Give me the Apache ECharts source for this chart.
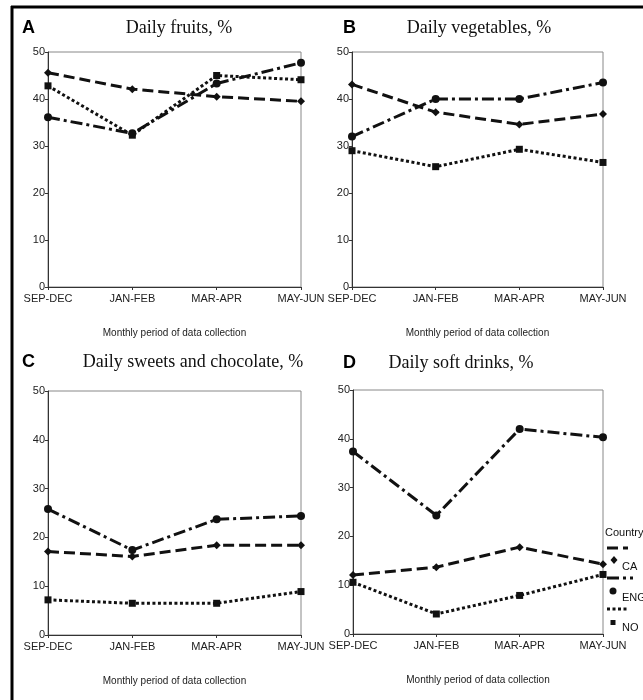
<!DOCTYPE html>
<html>
<head>
<meta charset="utf-8">
<script src="https://cdn.jsdelivr.net/npm/echarts@6/dist/echarts.min.js"></script>
<style>
  html, body { margin: 0; padding: 0; background: #fff; }
  #chart { width: 643px; height: 700px; }
</style>
</head>
<body>
<div id="chart"></div>
<script>
// Collection periods (x categories) and y tick values
const periods = ['SEP-DEC', 'JAN-FEB', 'MAR-APR', 'MAY-JUN'];
const yTicks = [0, 10, 20, 30, 40, 50];

// Panel titles
const panelLetters = ['A', 'B', 'C', 'D'];
const panelTitles = ['Daily fruits, %', 'Daily vegetables, %', 'Daily sweets and chocolate, %', 'Daily soft drinks, %'];

// Countries
const countries = ['CA', 'ENG', 'NO'];

// A: daily fruits
const fruitsCA  = [45.6, 42.1, 40.5, 39.5];
const fruitsENG = [36.1, 32.7, 43.3, 47.7];
const fruitsNO  = [42.8, 32.3, 45.0, 44.1];

// B: daily vegetables
const vegCA  = [43.1, 37.2, 34.6, 36.8];
const vegENG = [32.0, 40.0, 40.0, 43.5];
const vegNO  = [29.0, 25.6, 29.3, 26.5];

// C: daily sweets and chocolate
const sweetsCA  = [17.1, 16.1, 18.4, 18.4];
const sweetsENG = [25.8, 17.4, 23.7, 24.4];
const sweetsNO  = [7.2, 6.5, 6.5, 8.9];

// D: daily soft drinks
const drinksCA  = [12.1, 13.7, 17.8, 14.3];
const drinksENG = [37.4, 24.3, 42.0, 40.3];
const drinksNO  = [10.6, 4.1, 7.9, 12.2];

const panelData = [
  [fruitsCA, fruitsENG, fruitsNO],
  [vegCA, vegENG, vegNO],
  [sweetsCA, sweetsENG, sweetsNO],
  [drinksCA, drinksENG, drinksNO]
];

// Per-country line and marker styles
const countryStyle = {
  CA:  { dash: [11, 5], symbol: 'diamond', size: 8 },
  ENG: { dash: [12, 4, 3, 4], symbol: 'circle', size: 8 },
  NO:  { dash: [3, 2.5], symbol: 'rect', size: 7 }
};

// Grid placement of each panel
const grids = [
  { left: 48,  top: 52,  width: 253, height: 235 },
  { left: 352, top: 52,  width: 251, height: 235 },
  { left: 48,  top: 391, width: 253, height: 244 },
  { left: 353, top: 390, width: 250, height: 244 }
];

const INK = '#111';
const sans = 'Liberation Sans, Arial, sans-serif';
const serif = 'Liberation Serif, Times New Roman, serif';

const xAxes = grids.map((g, i) => ({
  type: 'category',
  gridIndex: i,
  data: periods,
  boundaryGap: false,
  axisLine: { show: true, lineStyle: { color: '#333', width: 1 } },
  axisTick: { show: true, alignWithLabel: true, length: 3, lineStyle: { color: '#333' } },
  axisLabel: { color: '#222', fontFamily: sans, fontSize: 11, margin: 6 },
  name: 'Monthly period of data collection',
  nameLocation: 'middle',
  nameGap: 41,
  nameTextStyle: { color: '#222', fontFamily: sans, fontSize: 10 },
  splitLine: { show: false }
}));

const yAxes = grids.map((g, i) => ({
  type: 'value',
  gridIndex: i,
  min: yTicks[0],
  max: yTicks[yTicks.length - 1],
  interval: yTicks[1] - yTicks[0],
  axisLine: { show: true, lineStyle: { color: '#333', width: 1 } },
  axisTick: { show: true, length: 3, lineStyle: { color: '#333' } },
  axisLabel: { color: '#222', fontFamily: sans, fontSize: 11, margin: 3 },
  splitLine: { show: false }
}));

const series = [];
panelData.forEach((set, p) => {
  set.forEach((values, c) => {
    const st = countryStyle[countries[c]];
    series.push({
      type: 'line',
      name: countries[c],
      xAxisIndex: p,
      yAxisIndex: p,
      data: values,
      symbol: st.symbol,
      symbolSize: st.size,
      showSymbol: true,
      itemStyle: { color: INK },
      lineStyle: { color: INK, width: 3, type: st.dash },
      animation: false,
      z: 3
    });
  });
});

// Panel letters and titles
const titleGraphics = [];
const titlePos = [
  { letterX: 22,  titleX: 179, y: 28 },
  { letterX: 343, titleX: 479, y: 28 },
  { letterX: 22,  titleX: 193, y: 362 },
  { letterX: 343, titleX: 461, y: 363 }
];
titlePos.forEach((t, i) => {
  titleGraphics.push({
    type: 'text', x: t.letterX, y: t.y,
    style: { text: panelLetters[i], font: 'bold 18px ' + sans, fill: '#000', verticalAlign: 'middle' }
  });
  titleGraphics.push({
    type: 'text', x: t.titleX, y: t.y,
    style: { text: panelTitles[i], font: '18px ' + serif, fill: '#111', align: 'center', verticalAlign: 'middle' }
  });
});

// Country key beside panel D
const keyGraphics = [
  { type: 'text', x: 605, y: 533, style: { text: 'Country:', font: '11px ' + sans, fill: '#111', verticalAlign: 'middle' } },
  { type: 'line', shape: { x1: 607, y1: 548, x2: 628, y2: 548 }, style: { stroke: INK, lineWidth: 3, lineDash: countryStyle.CA.dash } },
  { type: 'polygon', shape: { points: [[614, 556], [617.5, 560], [614, 564], [610.5, 560]] }, style: { fill: INK } },
  { type: 'text', x: 622, y: 567, style: { text: 'CA', font: '11px ' + sans, fill: '#111', verticalAlign: 'middle' } },
  { type: 'line', shape: { x1: 607, y1: 578, x2: 633, y2: 578 }, style: { stroke: INK, lineWidth: 3, lineDash: countryStyle.ENG.dash } },
  { type: 'circle', shape: { cx: 613, cy: 591, r: 3.5 }, style: { fill: INK } },
  { type: 'text', x: 622, y: 598, style: { text: 'ENG', font: '11px ' + sans, fill: '#111', verticalAlign: 'middle' } },
  { type: 'line', shape: { x1: 607, y1: 609, x2: 629, y2: 609 }, style: { stroke: INK, lineWidth: 3, lineDash: countryStyle.NO.dash } },
  { type: 'rect', shape: { x: 610.5, y: 620, width: 5, height: 5 }, style: { fill: INK } },
  { type: 'text', x: 622, y: 628, style: { text: 'NO', font: '11px ' + sans, fill: '#111', verticalAlign: 'middle' } }
];

// Figure frame: heavy top and left rules
const frameGraphics = [
  { type: 'line', shape: { x1: 11, y1: 7, x2: 643, y2: 7 }, style: { stroke: '#000', lineWidth: 3 } },
  { type: 'line', shape: { x1: 12, y1: 6, x2: 12, y2: 700 }, style: { stroke: '#000', lineWidth: 3 } }
];

const chart = echarts.init(document.getElementById('chart'), null, { renderer: 'canvas' });
chart.setOption({
  backgroundColor: '#fff',
  animation: false,
  grid: grids.map(g => Object.assign({ show: true, borderColor: '#888', borderWidth: 1, backgroundColor: 'transparent' }, g)),
  xAxis: xAxes,
  yAxis: yAxes,
  series: series,
  graphic: frameGraphics.concat(titleGraphics, keyGraphics)
});
</script>
</body>
</html>
